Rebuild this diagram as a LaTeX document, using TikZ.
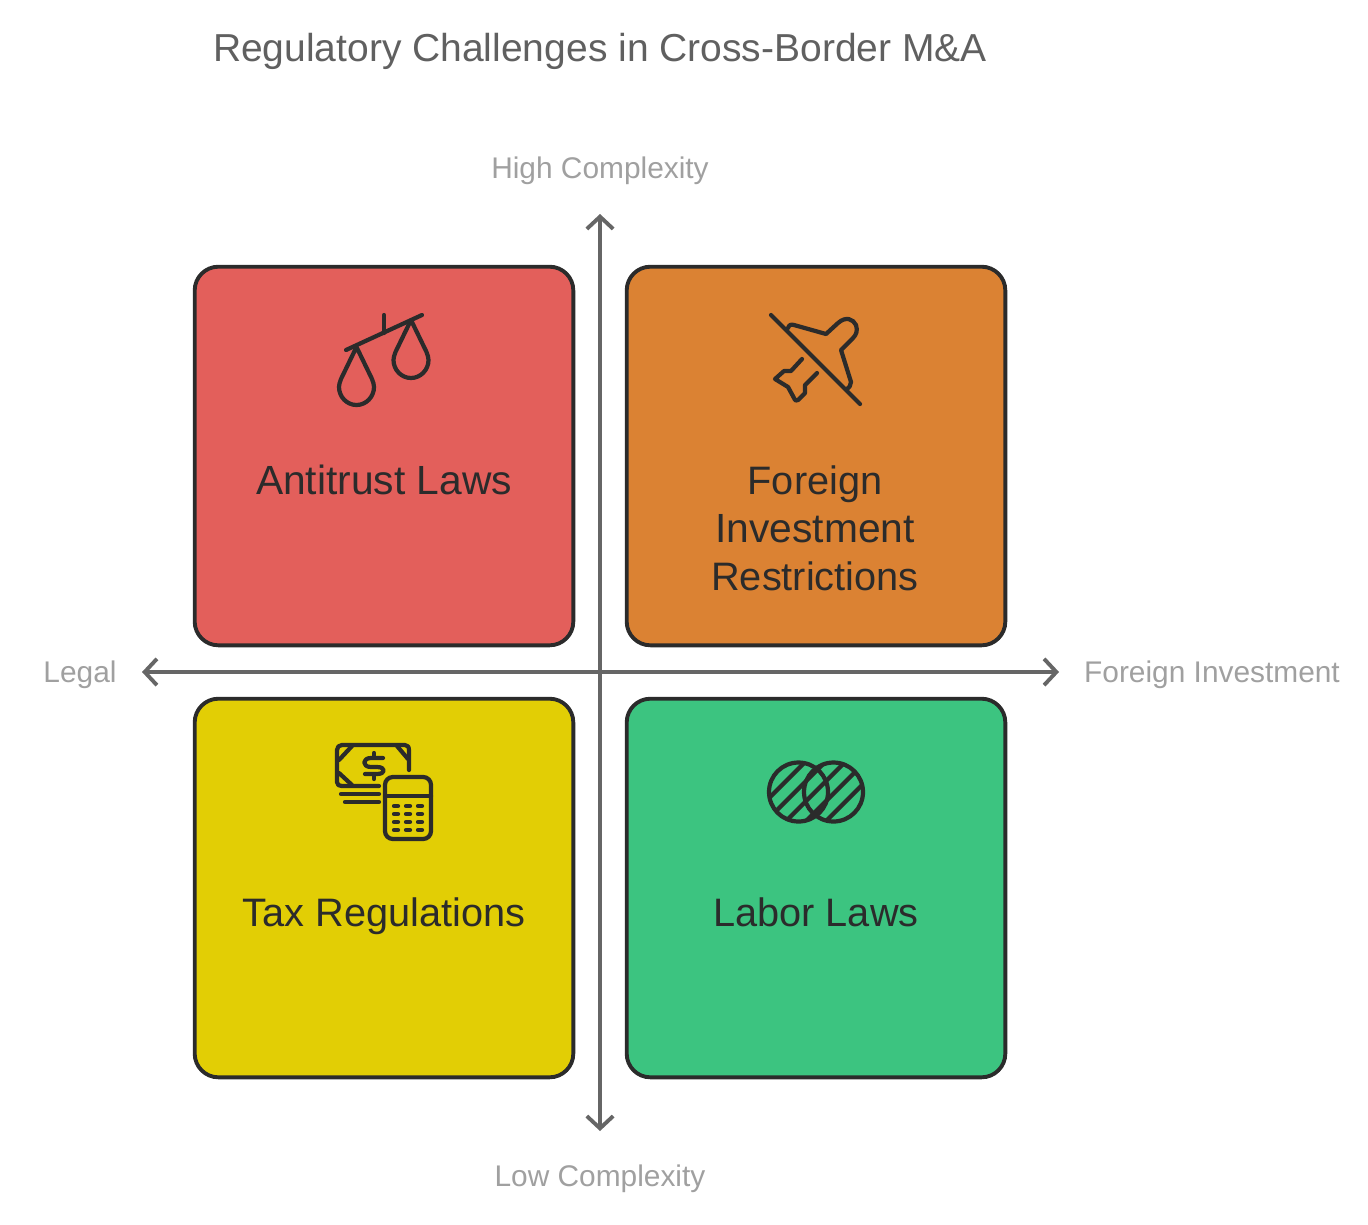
\documentclass[tikz,border=0pt]{standalone}
\usepackage{fontspec}
\setmainfont{Liberation Sans}
\usetikzlibrary{arrows.meta}
\definecolor{boxred}{HTML}{E35F5B}
\definecolor{boxorange}{HTML}{DB8233}
\definecolor{boxyellow}{HTML}{E2CE05}
\definecolor{boxgreen}{HTML}{3CC480}
\definecolor{inkdark}{HTML}{2B2B2B}
\definecolor{axisgrey}{HTML}{666666}
\definecolor{labelgrey}{HTML}{A0A0A0}
\definecolor{titlegrey}{HTML}{606060}
\tikzset{
  quadbox/.style={draw=inkdark,line width=2.2pt,rounded corners=13.5pt,minimum width=215.5pt,minimum height=215.5pt,inner sep=0pt},
  quadtext/.style={text=inkdark,font=\fontsize{23.2}{27.2}\selectfont,anchor=base,inner sep=0pt},
  quadtextsmall/.style={quadtext,font=\fontsize{22.6}{27.2}\selectfont},
  axislabel/.style={text=labelgrey,font=\fontsize{17}{20}\selectfont,anchor=base,inner sep=0pt},
  axisline/.style={draw=axisgrey,line width=2.2pt,{Straight Barb[length=7pt,width=15pt,line width=2.2pt]}-{Straight Barb[length=7pt,width=15pt,line width=2.2pt]}},
  iconline/.style={draw=inkdark,line width=2.4pt,line cap=round,line join=round},
}
\begin{document}
\begin{tikzpicture}[x=0.02cm,y=-0.02cm]
    \useasboundingbox (0,0) rectangle (1368,1224);
    \node[text=titlegrey,font=\fontsize{22.2}{26}\selectfont,anchor=base,inner sep=0pt] (title) at (600,61) {Regulatory Challenges in Cross-Border M\&A};
    % quadrants
    \node[quadbox,fill=boxred] (antitrust) at (384,456) {};
    \node[quadbox,fill=boxorange] (foreign) at (816,456) {};
    \node[quadbox,fill=boxyellow] (tax) at (384,888) {};
    \node[quadbox,fill=boxgreen] (labor) at (816,888) {};
    \node[quadtext] (antitrusttext) at (384,494) {Antitrust Laws};
    \node[quadtextsmall] (foreigntext1) at (815,494) {Foreign};
    \node[quadtext] (foreigntext2) at (815,542) {Investment};
    \node[quadtextsmall] (foreigntext3) at (815,590) {Restrictions};
    \node[quadtextsmall] (taxtext) at (384,926) {Tax Regulations};
    \node[quadtextsmall] (labortext) at (816,926) {Labor Laws};
    % axes
    \coordinate (ytop) at (600,214);
    \coordinate (ybot) at (600,1131);
    \coordinate (xleft) at (142,672);
    \coordinate (xright) at (1059,672);
    \draw[axisline] (ytop) -- (ybot);
    \draw[axisline] (xleft) -- (xright);
    \node[axislabel] (high) at (600,178) {High Complexity};
    \node[axislabel] (low) at (600,1186) {Low Complexity};
    \node[axislabel] (legal) at (80,682) {Legal};
    \node[axislabel] (invest) at (1212,682) {Foreign Investment};
    % scales
    \draw[iconline] (346,350) -- (422,315);
    \draw[iconline] (384,315) -- (384,333);
    \foreach \panx/\pany in {0/0,54.5/-27}
      \draw[iconline,shift={(\panx,\pany)}] (356.5,347) -- (341,379) .. controls (339.7,382) and (339,385) .. (339,387) .. controls (339,397) and (347,405) .. (356.5,405) .. controls (366,405) and (374,397) .. (374,387) .. controls (374,385) and (373.3,382) .. (372,379) -- cycle;
    % plane
    \draw[iconline] (771,315) -- (860,404);
    \draw[iconline] (788,328) .. controls (789,325) and (791,324) .. (794,325) -- (826,334) -- (838,323) .. controls (846,316) and (853,319) .. (856,325) .. controls (858,331) and (856,335) .. (853,338) -- (841,350) -- (851,382) .. controls (851,385) and (849,388) .. (847,389);
    \draw[iconline] (802,359) -- (791,371) -- (784,371) -- (775,379) -- (788,387) -- (794,398) .. controls (795,401) and (797,401) .. (798,400) -- (805,393) -- (805,385) -- (817,373);
    % money and calculator
    \draw[iconline] (409,770) -- (409,751) .. controls (409,747) and (408,745) .. (405,745) -- (342,745) .. controls (339,745) and (337,747) .. (337,750) -- (337,782) .. controls (337,785) and (339,786) .. (342,786) -- (379,786);
    \draw[iconline] (352,746) -- (339,760);
    \draw[iconline] (397,746) -- (408,759);
    \draw[iconline] (339,773) -- (352,785);
    \draw[iconline] (341,794) -- (379,794);
    \draw[iconline] (345,802) -- (379,802);
    \draw[iconline] (383,758) -- (371,758) .. controls (362,758) and (362,767) .. (371,767) -- (377,767) .. controls (386,767) and (386,774) .. (377,774) -- (365,774);
    \draw[iconline] (374,753) -- (374,757);
    \draw[iconline] (374,775) -- (374,779);
    \draw[iconline,rounded corners=4.5pt] (385,777) rectangle (431,839);
    \draw[iconline] (385,796) -- (431,796);
    \foreach \keyy in {806,814,822,830}
      \foreach \keyx in {396,408,420}
        \draw[iconline] (\keyx-2,\keyy) -- (\keyx+2,\keyy);
    % overlapping circles
    \begin{scope}
      \clip (798.5,792) circle [radius=29.5] (833.5,792) circle [radius=29.5];
      \foreach \hatch in {1567,1587,1607,1627,1647}
        \draw[iconline,line cap=butt] (\hatch-842,842) -- (\hatch-742,742);
    \end{scope}
    \draw[iconline] (798.5,792) circle [radius=29.5];
    \draw[iconline] (833.5,792) circle [radius=29.5];
\end{tikzpicture}
\end{document}
